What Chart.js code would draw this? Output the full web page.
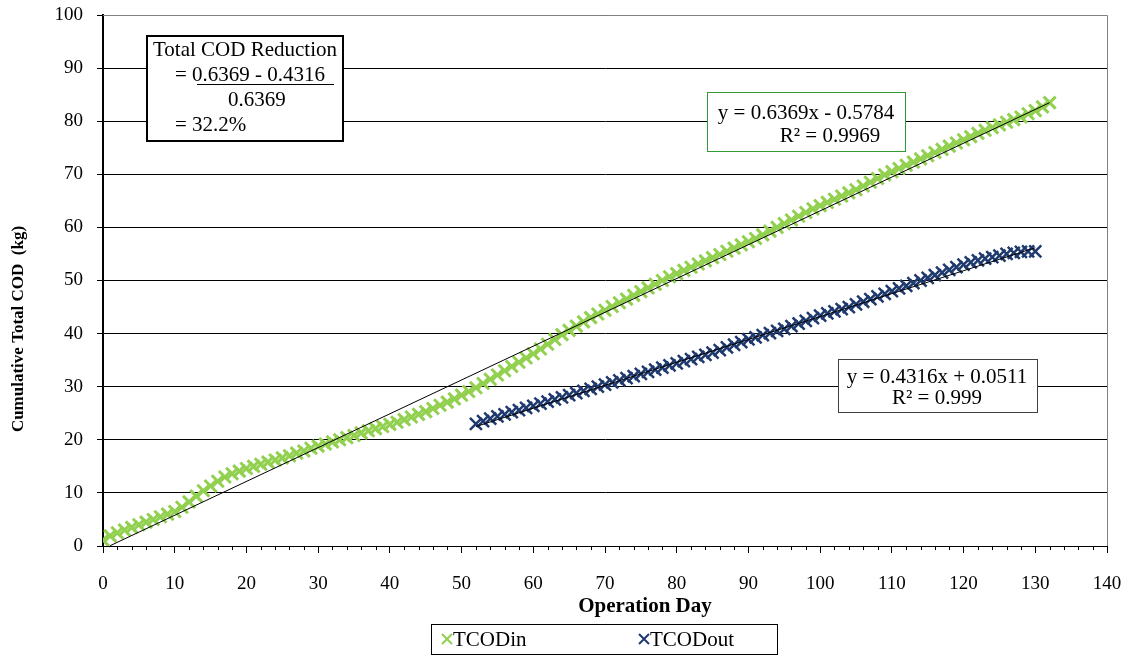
<!DOCTYPE html>
<html>
<head>
<meta charset="utf-8">
<script src="https://cdn.jsdelivr.net/npm/chart.js@4"></script>
<style>
  html, body { margin: 0; padding: 0; background: #fff; }
  #chart { display: block; }
</style>
</head>
<body>
<canvas id="chart" width="1133" height="656"></canvas>
<script>
// operation days and cumulative COD (kg)
const daysIn = [];
for (let d = 0; d <= 132; d++) daysIn.push(d);
const tcodIn = [
  1.1, 1.9, 2.5, 3.0, 3.5, 4.0, 4.5, 5.0, 5.5, 6.0, 6.5,
  7.3, 8.3, 9.4, 10.4, 11.3, 12.2, 13.0, 13.6, 14.1, 14.6,
  15.0, 15.4, 15.8, 16.2, 16.6, 17.0, 17.5, 17.9, 18.4, 18.8,
  19.2, 19.6, 20.0, 20.4, 20.8, 21.3, 21.7, 22.1, 22.5, 22.9,
  23.3, 23.8, 24.3, 24.8, 25.3, 25.9, 26.5, 27.1, 27.7, 28.4,
  29.1, 29.8, 30.6, 31.4, 32.2, 33.0, 33.8, 34.6, 35.4, 36.2,
  37.1, 38.0, 38.9, 39.8, 40.6, 41.4, 42.2, 43.0, 43.7, 44.4,
  45.1, 45.8, 46.5, 47.2, 47.9, 48.6, 49.3, 50.0, 50.7, 51.3,
  51.9, 52.5, 53.1, 53.7, 54.3, 54.9, 55.5, 56.1, 56.7, 57.3,
  57.9, 58.6, 59.3, 60.0, 60.7, 61.4, 62.1, 62.8, 63.5, 64.1,
  64.7, 65.3, 65.9, 66.5, 67.1, 67.8, 68.5, 69.2, 69.9, 70.5,
  71.1, 71.7, 72.3, 72.9, 73.5, 74.1, 74.7, 75.3, 75.9, 76.5,
  77.1, 77.7, 78.3, 78.8, 79.3, 79.8, 80.3, 80.8, 81.4, 82.0, 82.7, 83.5
];
const daysOut = [];
for (let d = 52; d <= 130; d++) daysOut.push(d);
const tcodOut = [
  23.0, 23.5, 24.0, 24.4, 24.8, 25.2, 25.6, 26.0, 26.4,
  26.8, 27.2, 27.6, 28.0, 28.4, 28.8, 29.2, 29.6, 30.0, 30.4,
  30.8, 31.2, 31.6, 32.0, 32.4, 32.8, 33.2, 33.6, 34.0, 34.4,
  34.8, 35.2, 35.6, 36.0, 36.4, 36.9, 37.4, 37.9, 38.4, 38.9,
  39.3, 39.7, 40.1, 40.5, 40.9, 41.4, 41.9, 42.4, 42.9, 43.4,
  43.8, 44.2, 44.6, 45.0, 45.5, 46.0, 46.5, 47.0, 47.5, 48.0,
  48.5, 49.0, 49.5, 50.0, 50.5, 51.0, 51.5, 52.0, 52.5, 53.0,
  53.4, 53.8, 54.1, 54.4, 54.7, 55.0, 55.2, 55.4, 55.5, 55.5
];

// linear trendlines as given on the chart
const fitIn = { slope: 0.6369, intercept: -0.5784, from: 1, to: 132 };
const fitOut = { slope: 0.4316, intercept: 0.0511, from: 52, to: 130 };

const xTicks = [0, 10, 20, 30, 40, 50, 60, 70, 80, 90, 100, 110, 120, 130, 140];
const yTicks = [0, 10, 20, 30, 40, 50, 60, 70, 80, 90, 100];

const GREEN = '#92D050';
const NAVY = '#1F3A6E';
const SERIF = "'Liberation Serif', 'Times New Roman', serif";

function toPoints(xs, ys) {
  return xs.map((x, i) => ({ x: x, y: ys[i] }));
}
function fitLine(f) {
  return [f.from, f.to].map(x => ({ x: x, y: f.slope * x + f.intercept }));
}

const decorations = {
  id: 'decorations',
  afterDraw(chart) {
    const ctx = chart.ctx;
    const area = chart.chartArea;
    const xs = chart.scales.x;
    ctx.save();

    // minor ticks on x axis
    ctx.strokeStyle = '#000';
    ctx.lineWidth = 1;
    for (let v = 0; v <= 140; v += 2) {
      if (v % 10 === 0) continue;
      const px = Math.round(xs.getPixelForValue(v)) + 0.5;
      ctx.beginPath();
      ctx.moveTo(px, area.bottom);
      ctx.lineTo(px, area.bottom + 4);
      ctx.stroke();
    }

    // plot frame top/right
    ctx.strokeStyle = '#808080';
    ctx.lineWidth = 1;
    ctx.beginPath();
    ctx.moveTo(area.left, area.top + 0.5);
    ctx.lineTo(area.right + 0.5, area.top + 0.5);
    ctx.lineTo(area.right + 0.5, area.bottom);
    ctx.stroke();

    ctx.textBaseline = 'middle';

    // reduction box
    ctx.fillStyle = '#fff';
    ctx.fillRect(147, 36, 196, 105);
    ctx.strokeStyle = '#000';
    ctx.lineWidth = 2;
    ctx.strokeRect(147, 36, 196, 105);
    ctx.fillStyle = '#000';
    ctx.font = '21px ' + SERIF;
    ctx.textAlign = 'left';
    ctx.fillText('Total COD Reduction', 153, 50);
    ctx.fillText('= 0.6369 - 0.4316', 175, 75);
    ctx.fillText('0.6369', 228, 100);
    ctx.fillText('= 32.2%', 175, 125);
    ctx.lineWidth = 1.2;
    ctx.beginPath();
    ctx.moveTo(197, 84.5);
    ctx.lineTo(334, 84.5);
    ctx.stroke();

    // trendline labels
    function eqBox(x, y, w, h, color, l1, l2, y1, y2, c1, c2) {
      ctx.fillStyle = '#fff';
      ctx.fillRect(x, y, w, h);
      ctx.strokeStyle = color;
      ctx.lineWidth = 1;
      ctx.strokeRect(x + 0.5, y + 0.5, w, h);
      ctx.fillStyle = '#000';
      ctx.textAlign = 'center';
      ctx.fillText(l1, c1, y1);
      ctx.fillText(l2, c2, y2);
    }
    ctx.font = '21px ' + SERIF;
    eqBox(707, 92, 198, 59, '#339933', 'y = 0.6369x - 0.5784', 'R\u00B2 = 0.9969', 113, 136, 806, 830);
    eqBox(838, 359, 199, 53, '#404040', 'y = 0.4316x + 0.0511', 'R\u00B2 = 0.999', 377, 398, 937, 937);

    // axis titles
    ctx.font = 'bold 21px ' + SERIF;
    ctx.textAlign = 'center';
    ctx.fillText('Operation Day', 645, 607);
    ctx.font = 'bold 17px ' + SERIF;
    ctx.save();
    ctx.translate(19, 329);
    ctx.rotate(-Math.PI / 2);
    ctx.fillText('Cumulative Total COD  (kg)', 0, 0);
    ctx.restore();

    // legend
    ctx.strokeStyle = '#000';
    ctx.lineWidth = 1;
    ctx.strokeRect(431.5, 624.5, 346, 30);
    const items = [
      { label: chart.data.datasets[0].label, color: GREEN, x: 447 },
      { label: chart.data.datasets[1].label, color: NAVY, x: 644 }
    ];
    ctx.font = '21px ' + SERIF;
    ctx.textAlign = 'left';
    items.forEach(it => {
      ctx.strokeStyle = it.color;
      ctx.lineWidth = 2;
      ctx.beginPath();
      ctx.moveTo(it.x - 5, 634); ctx.lineTo(it.x + 5, 644);
      ctx.moveTo(it.x + 5, 634); ctx.lineTo(it.x - 5, 644);
      ctx.stroke();
      ctx.fillStyle = '#000';
      ctx.fillText(it.label, it.x + 6, 640);
    });

    ctx.restore();
  }
};

new Chart(document.getElementById('chart'), {
  type: 'scatter',
  data: {
    datasets: [
      {
        label: 'TCODin',
        data: toPoints(daysIn, tcodIn),
        pointStyle: 'crossRot',
        pointRadius: 8.5,
        pointBorderWidth: 3,
        borderColor: GREEN,
        backgroundColor: GREEN,
        order: 1
      },
      {
        label: 'TCODout',
        data: toPoints(daysOut, tcodOut),
        pointStyle: 'crossRot',
        pointRadius: 8.5,
        pointBorderWidth: 2.5,
        borderColor: NAVY,
        backgroundColor: NAVY,
        order: 1
      },
      {
        label: 'fit in',
        data: fitLine(fitIn),
        showLine: true,
        pointRadius: 0,
        borderColor: '#000',
        borderWidth: 1,
        order: 0
      },
      {
        label: 'fit out',
        data: fitLine(fitOut),
        showLine: true,
        pointRadius: 0,
        borderColor: '#000',
        borderWidth: 1,
        order: 0
      }
    ]
  },
  options: {
    responsive: false,
    animation: false,
    layout: { padding: { top: 15, right: 26, left: 0, bottom: 0 } },
    plugins: {
      legend: { display: false },
      tooltip: { enabled: false }
    },
    scales: {
      x: {
        type: 'linear',
        min: 0,
        max: 140,
        afterBuildTicks: s => { s.ticks = xTicks.map(v => ({ value: v })); },
        afterFit: s => { s.height = 110; s.paddingLeft = 0; s.paddingRight = 0; },
        ticks: { color: '#000', font: { family: SERIF, size: 19 }, padding: 20, maxRotation: 0 },
        grid: { drawOnChartArea: false, drawTicks: true, tickLength: 7, color: '#000' },
        border: { color: '#000', width: 1 }
      },
      y: {
        min: 0,
        max: 100,
        afterBuildTicks: s => { s.ticks = yTicks.map(v => ({ value: v })); },
        afterFit: s => { s.width = 103; s.paddingTop = 0; s.paddingBottom = 0; },
        ticks: { color: '#000', font: { family: SERIF, size: 19 }, padding: 14 },
        grid: { color: '#000', lineWidth: 1, tickLength: 6 },
        border: { color: '#000', width: 2 }
      }
    }
  },
  plugins: [decorations]
});
</script>
</body>
</html>
